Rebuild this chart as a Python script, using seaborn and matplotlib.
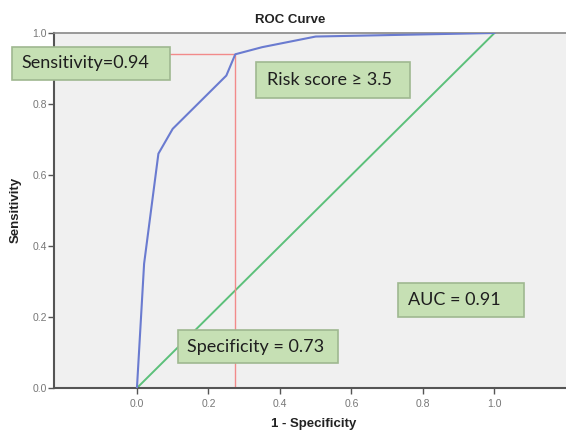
import numpy as np
import pandas as pd
import seaborn as sns
import matplotlib.pyplot as plt
from matplotlib.patches import Rectangle

# ROC curve
fpr = [0.0, 0.02, 0.06, 0.10, 0.25, 0.275, 0.35, 0.50, 1.0]
tpr = [0.0, 0.35, 0.66, 0.73, 0.88, 0.94, 0.96, 0.99, 1.0]
ref_x = [0.0, 1.0]
ref_y = [0.0, 1.0]
cut_x = 0.275   # 1 - specificity at cutoff
cut_y = 0.94    # sensitivity at cutoff

labels = ['Sensitivity=0.94', 'Risk score \u2265 3.5', 'Specificity = 0.73', 'AUC = 0.91']

roc = pd.DataFrame({'fpr': fpr, 'tpr': tpr})
diag = pd.DataFrame({'x': ref_x, 'y': ref_y})

sns.set_style('white', {'axes.facecolor': '#f0f0f0'})
plt.rcParams['font.family'] = ['Liberation Sans', 'DejaVu Sans']

fig = plt.figure(figsize=(5.66, 4.30), dpi=100)
ax = fig.add_axes([0.0954, 0.0977, 0.9046, 0.8256])

sns.lineplot(data=diag, x='x', y='y', color='#5cc07a', lw=1.4, ax=ax)
ax.plot([-0.232, cut_x, cut_x], [cut_y, cut_y, 0], color='#f28a8a', lw=1.0)
sns.lineplot(data=roc, x='fpr', y='tpr', color='#6a7bd0', lw=1.5, sort=False, ax=ax, zorder=4)

ax.set_xlim(-0.232, 1.2)
ax.set_ylim(0, 1.0)
ax.set_xticks([0, 0.2, 0.4, 0.6, 0.8, 1.0])
ax.set_yticks([0, 0.2, 0.4, 0.6, 0.8, 1.0])
ax.set_xticklabels(['0.0', '0.2', '0.4', '0.6', '0.8', '1.0'])
ax.set_yticklabels(['0.0', '0.2', '0.4', '0.6', '0.8', '1.0'])
ax.tick_params(axis='both', direction='out', length=4, width=1, color='#555555',
               labelsize=7.5, labelcolor='#777777', pad=1)
ax.tick_params(axis='x', pad=4)
ax.tick_params(left=True, bottom=True)
for s in ['left', 'bottom']:
    ax.spines[s].set_color('#555555')
    ax.spines[s].set_linewidth(1.5)
ax.spines['top'].set_color('#888888')
ax.spines['top'].set_linewidth(1.2)
ax.spines['right'].set_visible(False)
ax.set_xlabel('')
ax.set_ylabel('')

fig.text(0.512, 0.953, 'ROC Curve', ha='center', va='center', fontsize=9.5, fontweight='bold', color='#222222')
fig.text(0.555, 0.014, '1 - Specificity', ha='center', va='center', fontsize=9.5, fontweight='bold', color='#222222')
fig.text(0.027, 0.512, 'Sensitivity', ha='center', va='center', rotation=90, fontsize=9.5, fontweight='bold', color='#222222')

# annotation boxes: (x0, x1, y0, y1, text_x)
boxes = [(-0.350, 0.092, 0.868, 0.961, -0.322),
         (0.333, 0.764, 0.817, 0.918, 0.364),
         (0.115, 0.562, 0.070, 0.163, 0.140),
         (0.730, 1.083, 0.200, 0.296, 0.758)]
for (x0, x1, y0, y1, tx), lab in zip(boxes, labels):
    ax.add_patch(Rectangle((x0, y0), x1 - x0, y1 - y0, facecolor='#c6e0b4',
                           edgecolor='#9fb890', lw=1.2, clip_on=False, zorder=5))
    ax.text(tx, (y0 + y1) / 2, lab, ha='left', va='center', fontsize=13,
            family=['Lato', 'DejaVu Sans'], color='#1e1e1e', zorder=6, clip_on=False)

fig.savefig('out.png', dpi=100)
